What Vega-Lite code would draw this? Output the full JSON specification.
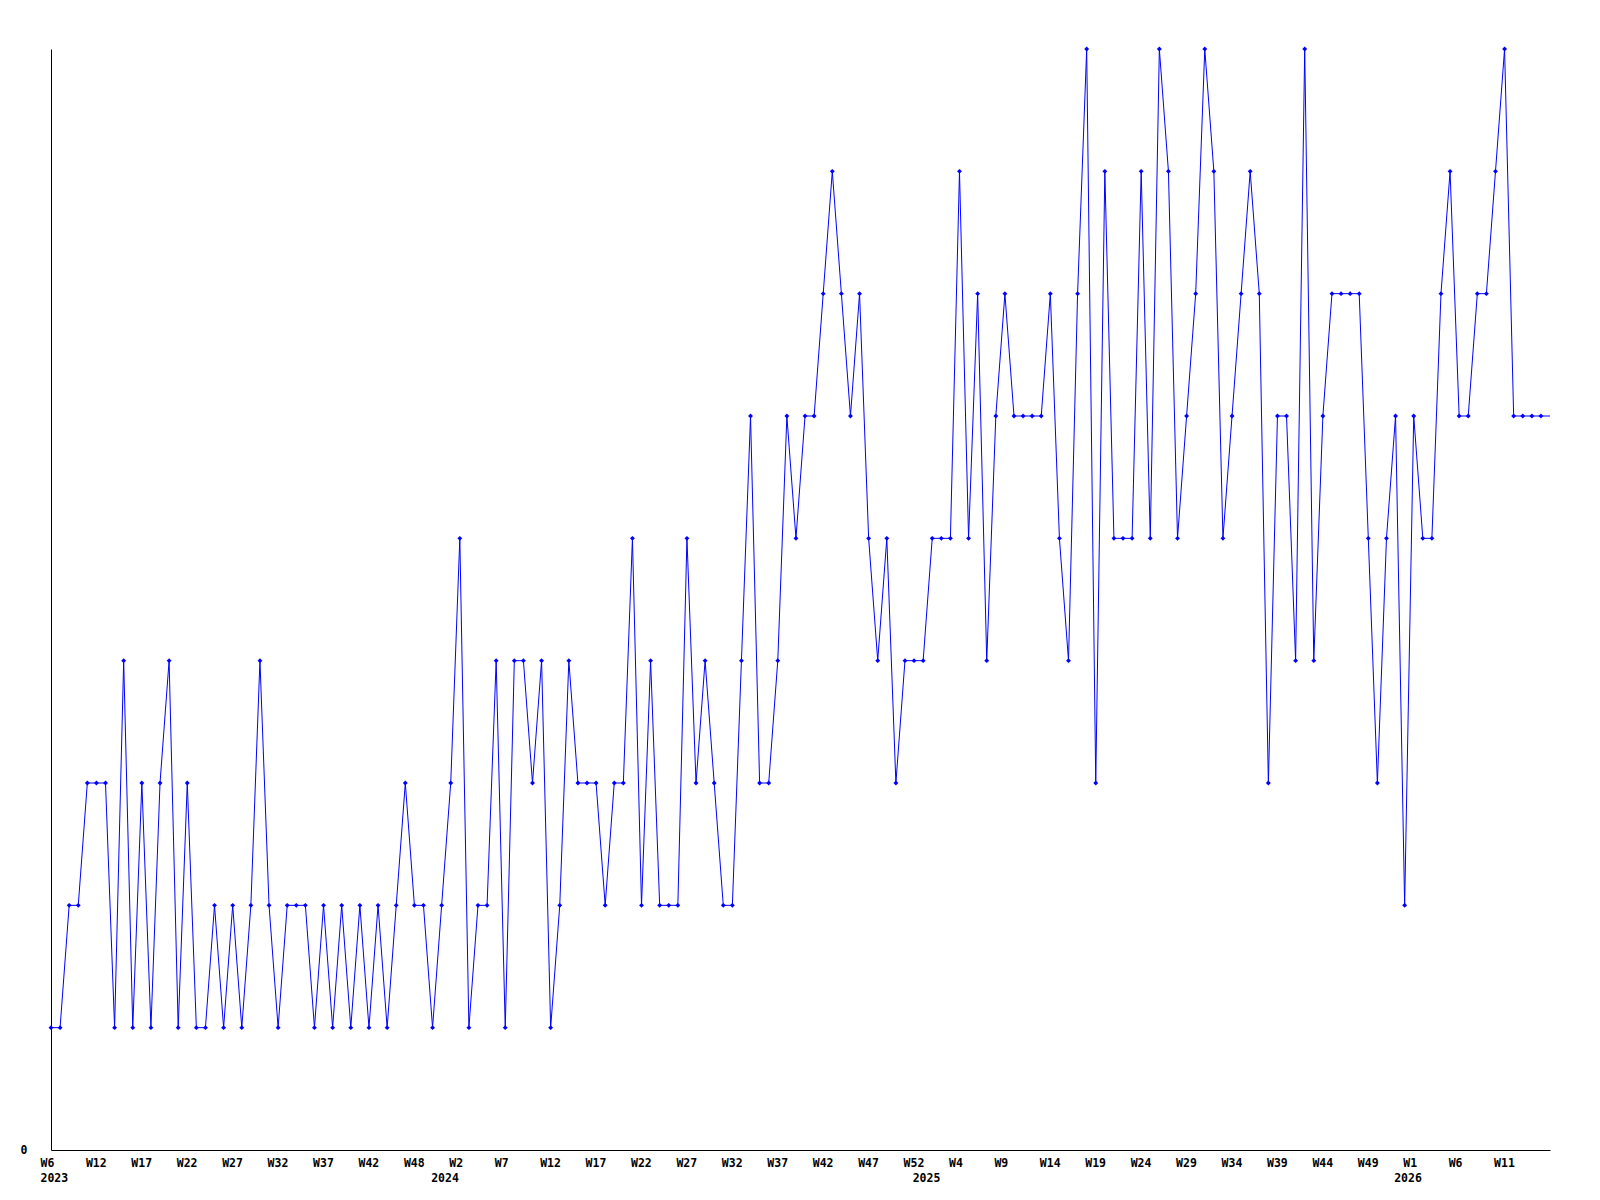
{
  "$schema": "https://vega.github.io/schema/vega-lite/v6.json",
  "width": 1499,
  "height": 1101,
  "autosize": {"type": "none"},
  "padding": {"left": 51, "top": 49, "right": 50, "bottom": 50},
  "background": "white",
  "config": {"view": {"stroke": null}},
  "data": {"values": [
    {"week":"2023-W06","n":1},{"week":"2023-W07","n":1},{"week":"2023-W08","n":2},{"week":"2023-W09","n":2},{"week":"2023-W10","n":3},{"week":"2023-W11","n":3},{"week":"2023-W12","n":3},{"week":"2023-W13","n":1},{"week":"2023-W14","n":4},{"week":"2023-W15","n":1},
    {"week":"2023-W16","n":3},{"week":"2023-W17","n":1},{"week":"2023-W18","n":3},{"week":"2023-W19","n":4},{"week":"2023-W20","n":1},{"week":"2023-W21","n":3},{"week":"2023-W22","n":1},{"week":"2023-W23","n":1},{"week":"2023-W24","n":2},{"week":"2023-W25","n":1},
    {"week":"2023-W26","n":2},{"week":"2023-W27","n":1},{"week":"2023-W28","n":2},{"week":"2023-W29","n":4},{"week":"2023-W30","n":2},{"week":"2023-W31","n":1},{"week":"2023-W32","n":2},{"week":"2023-W33","n":2},{"week":"2023-W34","n":2},{"week":"2023-W35","n":1},
    {"week":"2023-W36","n":2},{"week":"2023-W37","n":1},{"week":"2023-W38","n":2},{"week":"2023-W39","n":1},{"week":"2023-W40","n":2},{"week":"2023-W41","n":1},{"week":"2023-W42","n":2},{"week":"2023-W43","n":1},{"week":"2023-W44","n":2},{"week":"2023-W45","n":3},
    {"week":"2023-W46","n":2},{"week":"2023-W47","n":2},{"week":"2023-W48","n":1},{"week":"2023-W49","n":2},{"week":"2023-W50","n":3},{"week":"2023-W51","n":5},{"week":"2023-W52","n":1},
    {"week":"2024-W01","n":2},{"week":"2024-W02","n":2},{"week":"2024-W03","n":4},{"week":"2024-W04","n":1},{"week":"2024-W05","n":4},{"week":"2024-W06","n":4},{"week":"2024-W07","n":3},{"week":"2024-W08","n":4},{"week":"2024-W09","n":1},{"week":"2024-W10","n":2},
    {"week":"2024-W11","n":4},{"week":"2024-W12","n":3},{"week":"2024-W13","n":3},{"week":"2024-W14","n":3},{"week":"2024-W15","n":2},{"week":"2024-W16","n":3},{"week":"2024-W17","n":3},{"week":"2024-W18","n":5},{"week":"2024-W19","n":2},{"week":"2024-W20","n":4},
    {"week":"2024-W21","n":2},{"week":"2024-W22","n":2},{"week":"2024-W23","n":2},{"week":"2024-W24","n":5},{"week":"2024-W25","n":3},{"week":"2024-W26","n":4},{"week":"2024-W27","n":3},{"week":"2024-W28","n":2},{"week":"2024-W29","n":2},{"week":"2024-W30","n":4},
    {"week":"2024-W31","n":6},{"week":"2024-W32","n":3},{"week":"2024-W33","n":3},{"week":"2024-W34","n":4},{"week":"2024-W35","n":6},{"week":"2024-W36","n":5},{"week":"2024-W37","n":6},{"week":"2024-W38","n":6},{"week":"2024-W39","n":7},{"week":"2024-W40","n":8},
    {"week":"2024-W41","n":7},{"week":"2024-W42","n":6},{"week":"2024-W43","n":7},{"week":"2024-W44","n":5},{"week":"2024-W45","n":4},{"week":"2024-W46","n":5},{"week":"2024-W47","n":3},{"week":"2024-W48","n":4},{"week":"2024-W49","n":4},{"week":"2024-W50","n":4},
    {"week":"2024-W51","n":5},{"week":"2024-W52","n":5},
    {"week":"2025-W01","n":5},{"week":"2025-W02","n":8},{"week":"2025-W03","n":5},{"week":"2025-W04","n":7},{"week":"2025-W05","n":4},{"week":"2025-W06","n":6},{"week":"2025-W07","n":7},{"week":"2025-W08","n":6},{"week":"2025-W09","n":6},{"week":"2025-W10","n":6},
    {"week":"2025-W11","n":6},{"week":"2025-W12","n":7},{"week":"2025-W13","n":5},{"week":"2025-W14","n":4},{"week":"2025-W15","n":7},{"week":"2025-W16","n":9},{"week":"2025-W17","n":3},{"week":"2025-W18","n":8},{"week":"2025-W19","n":5},{"week":"2025-W20","n":5},
    {"week":"2025-W21","n":5},{"week":"2025-W22","n":8},{"week":"2025-W23","n":5},{"week":"2025-W24","n":9},{"week":"2025-W25","n":8},{"week":"2025-W26","n":5},{"week":"2025-W27","n":6},{"week":"2025-W28","n":7},{"week":"2025-W29","n":9},{"week":"2025-W30","n":8},
    {"week":"2025-W31","n":5},{"week":"2025-W32","n":6},{"week":"2025-W33","n":7},{"week":"2025-W34","n":8},{"week":"2025-W35","n":7},{"week":"2025-W36","n":3},{"week":"2025-W37","n":6},{"week":"2025-W38","n":6},{"week":"2025-W39","n":4},{"week":"2025-W40","n":9},
    {"week":"2025-W41","n":4},{"week":"2025-W42","n":6},{"week":"2025-W43","n":7},{"week":"2025-W44","n":7},{"week":"2025-W45","n":7},{"week":"2025-W46","n":7},{"week":"2025-W47","n":5},{"week":"2025-W48","n":3},{"week":"2025-W49","n":5},{"week":"2025-W50","n":6},
    {"week":"2025-W51","n":2},{"week":"2025-W52","n":6},
    {"week":"2026-W01","n":5},{"week":"2026-W02","n":5},{"week":"2026-W03","n":7},{"week":"2026-W04","n":8},{"week":"2026-W05","n":6},{"week":"2026-W06","n":6},{"week":"2026-W07","n":7},{"week":"2026-W08","n":7},{"week":"2026-W09","n":8},{"week":"2026-W10","n":9},
    {"week":"2026-W11","n":6},{"week":"2026-W12","n":6},{"week":"2026-W13","n":6},{"week":"2026-W14","n":6},{"week":"2026-W15","n":6}
  ]},
  "encoding": {
    "x": {
      "field": "week",
      "type": "ordinal",
      "sort": "ascending",
      "scale": {"type": "point", "padding": 0},
      "axis": {
        "title": null,
        "ticks": false,
        "grid": false,
        "labelAngle": 0,
        "labelAlign": "left",
        "labelBaseline": "top",
        "labelOffset": -11,
        "labelPadding": 7,
        "labelOverlap": false,
        "labelFlush": false,
        "labelBound": false,
        "labelFont": "DejaVu Sans Mono",
        "labelFontWeight": "bold",
        "labelFontSize": 11.5,
        "labelLineHeight": 15,
        "labelColor": "black",
        "domainColor": "black",
        "domainWidth": 1,
        "values": ["2023-W06","2023-W11","2023-W16","2023-W21","2023-W26","2023-W31","2023-W36","2023-W41","2023-W46","2023-W49","2023-W51","2024-W04","2024-W09","2024-W14","2024-W19","2024-W24","2024-W29","2024-W34","2024-W39","2024-W44","2024-W49","2024-W50","2025-W02","2025-W07","2025-W12","2025-W17","2025-W22","2025-W27","2025-W32","2025-W37","2025-W42","2025-W47","2025-W51","2025-W52","2026-W05","2026-W10"],
        "labelExpr": "[['W6','2023'],'W12','W17','W22','W27','W32','W37','W42','W48',[' ','2024'],'W2','W7','W12','W17','W22','W27','W32','W37','W42','W47','W52',[' ','2025'],'W4','W9','W14','W19','W24','W29','W34','W39','W44','W49',[' ','2026'],'W1','W6','W11'][indexof(['2023-W06','2023-W11','2023-W16','2023-W21','2023-W26','2023-W31','2023-W36','2023-W41','2023-W46','2023-W49','2023-W51','2024-W04','2024-W09','2024-W14','2024-W19','2024-W24','2024-W29','2024-W34','2024-W39','2024-W44','2024-W49','2024-W50','2025-W02','2025-W07','2025-W12','2025-W17','2025-W22','2025-W27','2025-W32','2025-W37','2025-W42','2025-W47','2025-W51','2025-W52','2026-W05','2026-W10'], datum.value)]"
      }
    },
    "y": {
      "field": "n",
      "type": "quantitative",
      "scale": {"domain": [0, 9], "nice": false, "zero": true},
      "axis": {
        "title": null,
        "ticks": false,
        "grid": false,
        "values": [0],
        "labelPadding": 24,
        "labelFont": "DejaVu Sans Mono",
        "labelFontWeight": "bold",
        "labelFontSize": 11.5,
        "labelColor": "black",
        "domainColor": "black",
        "domainWidth": 1
      }
    }
  },
  "layer": [
    {"mark": {"type": "line", "color": "#0000ff", "strokeWidth": 1, "interpolate": "linear"}},
    {
      "transform": [{"filter": "datum.week != '2026-W15'"}],
      "mark": {"type": "point", "shape": "diamond", "filled": true, "color": "#0000ff", "size": 24, "opacity": 1}
    }
  ]
}
